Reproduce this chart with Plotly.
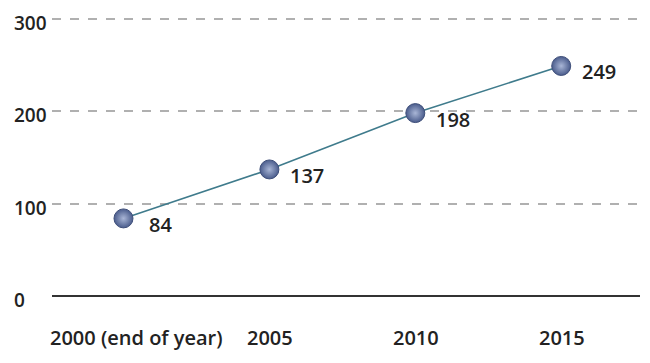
import plotly.graph_objects as go

categories = ["2000 (end of year)", "2005", "2010", "2015"]
values = [84, 137, 198, 249]
y_ticks = [0, 100, 200, 300]

FONT = "Open Sans"
xs = list(range(len(categories)))

fig = go.Figure()
fig.add_trace(go.Scatter(
    x=xs, y=values, mode="lines+markers",
    line=dict(color="#3f7b8c", width=1.6),
    marker=dict(size=19, color="#4a5c8c",
                gradient=dict(type="radial", color="#a9b6d6"),
                line=dict(color="#3f4f7a", width=1)),
    hoverinfo="skip", showlegend=False,
))

ann = []
for i, (x, v) in enumerate(zip(xs, values)):
    ann.append(dict(x=x, y=v, xref="x", yref="y", text=str(v), showarrow=False,
                    xanchor="left", yanchor="middle",
                    xshift=24 if i == 0 else 19, yshift=-6,
                    font=dict(family=FONT, size=20, color="#222", weight=600)))
for i, c in enumerate(categories):
    ann.append(dict(x=i, y=0, xref="x", yref="y", text=c, showarrow=False,
                    xanchor="center", yanchor="middle", yshift=-41,
                    xshift=13 if i == 0 else 1,
                    font=dict(family=FONT, size=20, color="#222", weight=600)))
for t in y_ticks:
    ann.append(dict(x=-0.068, y=t, xref="paper", yref="y", text=str(t), showarrow=False,
                    xanchor="left", yanchor="middle", yshift=-4,
                    font=dict(family=FONT, size=19, color="#222", weight=600)))

fig.update_layout(
    width=650, height=363,
    margin=dict(l=44, r=18, t=9, b=75),
    paper_bgcolor="white", plot_bgcolor="white",
    xaxis=dict(range=[-0.49, 3.54], showgrid=False, zeroline=False,
               showticklabels=False, showline=False),
    yaxis=dict(range=[0, 302], tickvals=[100, 200, 300], showticklabels=False,
               showgrid=True, gridcolor="#b0b0b0", gridwidth=2, griddash="dash",
               zeroline=True, zerolinecolor="#333333", zerolinewidth=2,
               showline=False),
    annotations=ann,
)
fig.write_html("out.html")
